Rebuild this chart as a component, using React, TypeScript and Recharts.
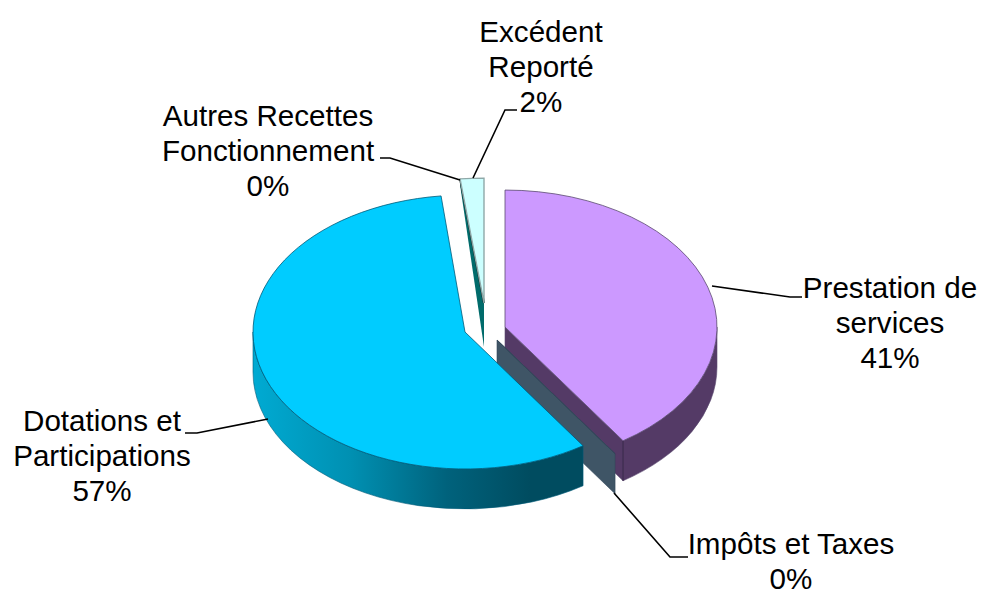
import React from "react";
import { PieChart, Pie, Cell } from "recharts";

const categories = ["Prestation de services", "Impôts et Taxes", "Dotations et Participations", "Autres Recettes Fonctionnement", "Excédent Reporté"];
const values = [40.6, 0, 57.6, 0, 1.8];
const percentLabels = ["41%", "0%", "57%", "0%", "2%"];
const labelLines = [
  ["Prestation de", "services", "41%"],
  ["Impôts et Taxes", "0%"],
  ["Dotations et", "Participations", "57%"],
  ["Autres Recettes", "Fonctionnement", "0%"],
  ["Excédent", "Reporté", "2%"],
];

const faceColors = ["#CC99FF", "#3F5566", "#00CCFF", "#006B6B", "#CCFFFF"];
const wallColors = ["#543A66", "#3F5566", "url(#blueWall)", "#006B6B", "#7FA5A5"];
const edgeColors = ["#5a4a70", "#33475a", "#005a78", "#0a1a1a", "#8fa8a8"];
const offsets = [[20, 2], [12, 15], [-20, 7], [-1, -22], [-1, -22]];
const ryScale = [1, 1, 1, 0.912, 0.912];
const cutWall = [true, true, false, true, false];
const outerWall = [true, false, true, false, false];
const innerDrop = [40, 40, 0, 44, 0];
const outerDrop = [40, 40, 0, 6, 0];
const DEPTH = 40;
const TILT = 0.646;
const CX = 485, CY = 325, R = 212;
const FONT = 29.6;
const LINE = 35;

const labelPos = [
  { x: 890, y: 288, line: [[712, 286], [790, 297], [802, 297]] },
  { x: 791, y: 543.5, line: [[614, 493], [670, 557], [688, 557]] },
  { x: 102, y: 421, line: [[268, 419], [197, 433], [185, 433]] },
  { x: 268, y: 116, line: [[460, 180], [390, 158], [380, 158]] },
  { x: 541, y: 32, line: [[473, 178], [505, 110], [517, 110]] },
];

function SliceShape(props: any) {
  const { cx, cy, outerRadius, startAngle, endAngle, index } = props;
  const [dx, dy] = offsets[index];
  const ax = cx + dx, ay = cy + dy;
  const rx = outerRadius, ry = outerRadius * TILT * ryScale[index];
  const pt = (deg: number, drop = 0) => {
    const a = (deg * Math.PI) / 180;
    return [ax + rx * Math.cos(a), ay - ry * Math.sin(a) + drop];
  };
  const s = pt(startAngle), e = pt(endAngle);
  const large = Math.abs(startAngle - endAngle) > 180 ? 1 : 0;
  const face = `M${ax},${ay}L${s[0]},${s[1]}A${rx},${ry} 0 ${large} 1 ${e[0]},${e[1]}Z`;
  let wall = null;
  if (outerWall[index]) {
    const from = Math.min(startAngle, 0);
    const to = Math.max(endAngle, -180);
    const a = pt(from), b = pt(to), c = pt(to, DEPTH), d = pt(from, DEPTH);
    wall = `M${a[0]},${a[1]}A${rx},${ry} 0 0 1 ${b[0]},${b[1]}L${c[0]},${c[1]}A${rx},${ry} 0 0 0 ${d[0]},${d[1]}Z`;
  }
  let cut = null;
  if (cutWall[index]) {
    cut = `M${ax},${ay}L${e[0]},${e[1]}L${e[0]},${e[1] + outerDrop[index]}L${ax},${ay + innerDrop[index]}Z`;
  }
  const edge = edgeColors[index];
  return (
    <g>
      <defs>
        <linearGradient id="blueWall" gradientUnits="userSpaceOnUse" x1="254" y1="0" x2="530" y2="0">
          <stop offset="0" stopColor="#00AAD2" />
          <stop offset="0.35" stopColor="#0090B2" />
          <stop offset="0.7" stopColor="#00627C" />
          <stop offset="1" stopColor="#004C60" />
        </linearGradient>
      </defs>
      {cut && <path d={cut} fill={wallColors[index]} stroke={index === 3 ? "none" : edge} strokeWidth={0.6} />}
      {wall && <path d={wall} fill={wallColors[index]} stroke={edge} strokeWidth={0.6} />}
      {index === 0 && <path d={`M${e[0]},${e[1]}L${e[0]},${e[1] + DEPTH}`} stroke="#2c1c3c" strokeWidth={0.8} />}
      <path d={face} fill={faceColors[index]} stroke={edge} strokeWidth={index === 3 ? 2 : index === 4 ? 1.4 : 0.8} />
    </g>
  );
}

function SliceLabel(props: any) {
  const { index } = props;
  const p = labelPos[index];
  const lines = labelLines[index];
  return (
    <g>
      <polyline points={p.line.map((q) => q.join(",")).join(" ")} fill="none" stroke="#000" strokeWidth={1.6} />
      <text textAnchor="middle" fontFamily="'Liberation Sans', Arial, sans-serif" fontSize={FONT} fill="#000">
        {lines.map((t, i) => (
          <tspan key={i} x={p.x} y={p.y + i * LINE + 10}>{t}</tspan>
        ))}
      </text>
    </g>
  );
}

const chartData = categories.map((name, i) => ({ name, value: values[i], percent: percentLabels[i] }));

export default function App() {
  return (
    <div style={{ position: "absolute", left: 0, top: 0, width: 981, height: 590, background: "#fff" }}>
      <PieChart width={981} height={590} margin={{ top: 0, right: 0, bottom: 0, left: 0 }}>
        <Pie
          data={chartData}
          dataKey="value"
          nameKey="name"
          cx={CX}
          cy={CY}
          outerRadius={R}
          innerRadius={0}
          startAngle={90}
          endAngle={-270}
          paddingAngle={0}
          stroke="none"
          isAnimationActive={false}
          shape={SliceShape}
          label={SliceLabel}
          labelLine={false}
        >
          {chartData.map((d, i) => (
            <Cell key={d.name} fill={faceColors[i]} />
          ))}
        </Pie>
      </PieChart>
    </div>
  );
}
